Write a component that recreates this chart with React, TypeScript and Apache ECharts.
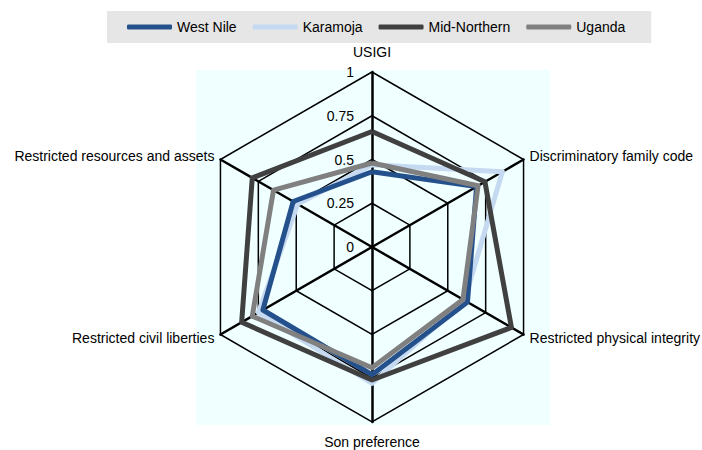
import React, { useEffect, useRef } from "react";
import * as echarts from "echarts";

const indicators = [
  "USIGI",
  "Discriminatory family code",
  "Restricted physical integrity",
  "Son preference",
  "Restricted civil liberties",
  "Restricted resources and assets",
];

const legendOrder = ["West Nile", "Karamoja", "Mid-Northern", "Uganda"];

const westNile = [0.43, 0.69, 0.63, 0.73, 0.72, 0.52];
const karamoja = [0.47, 0.86, 0.61, 0.78, 0.75, 0.49];
const midNorthern = [0.66, 0.745, 0.92, 0.76, 0.86, 0.79];
const uganda = [0.48, 0.7, 0.6, 0.69, 0.79, 0.65];

const colors: Record<string, string> = {
  "West Nile": "#24508C",
  Karamoja: "#C5D9F1",
  "Mid-Northern": "#404040",
  Uganda: "#808080",
};

const FONT = "'Liberation Sans', Arial, sans-serif";

// ECharts radar lays indicators out counter-clockwise; the reference runs clockwise.
const order = [0, 5, 4, 3, 2, 1];

export default function App() {
  const ref = useRef<HTMLDivElement>(null);
  useEffect(() => {
    if (!ref.current) return;
    const chart = echarts.init(ref.current, undefined, { renderer: "svg" });
    const seriesDefs = [
      { name: "Karamoja", values: karamoja },
      { name: "West Nile", values: westNile },
      { name: "Mid-Northern", values: midNorthern },
      { name: "Uganda", values: uganda },
    ];
    chart.setOption({
      animation: false,
      backgroundColor: "#ffffff",
      graphic: [
        {
          type: "rect",
          z: -10,
          silent: true,
          shape: { x: 196, y: 70, width: 354, height: 355 },
          style: { fill: "#F0FFFF" },
        },
      ],
      legend: {
        data: legendOrder,
        left: 107,
        top: 11,
        padding: [9, 26, 9, 20],
        itemGap: 16,
        itemWidth: 45,
        itemHeight: 5,
        icon: "roundRect",
        backgroundColor: "#E6E6E6",
        textStyle: { color: "#000", fontSize: 14, fontFamily: FONT },
      },
      radar: {
        center: [372, 247],
        radius: 175,
        startAngle: 90,
        splitNumber: 4,
        shape: "polygon",
        nameGap: 7,
        indicator: order.map((i) => ({
          name: indicators[i],
          min: 0,
          max: 1,
          axisLabel: { show: i === 0 },
        })),
        axisName: {
          color: "#000",
          fontSize: 14,
          fontFamily: FONT,
          formatter: (name: string) =>
            name === "USIGI" || name === "Son preference" ? `{v|${name}}` : name,
          rich: {
            v: { padding: [6, 0, 6, 0], color: "#000", fontSize: 14, fontFamily: FONT },
          },
        },
        axisLine: { lineStyle: { color: "#000", width: 2.5 } },
        splitLine: { lineStyle: { color: "#000", width: 1.5 } },
        splitArea: { show: false },
        axisTick: { show: false },
        axisLabel: {
          show: false,
          color: "#000",
          fontSize: 14,
          fontFamily: FONT,
          margin: 18,
        },
      },
      series: [
        {
          type: "radar",
          symbol: "none",
          data: seriesDefs.map((s) => ({
            name: s.name,
            value: order.map((i) => s.values[i]),
            lineStyle: { color: colors[s.name], width: 5 },
            itemStyle: { color: colors[s.name] },
          })),
        },
      ],
    });
    return () => chart.dispose();
  }, []);
  return (
    <div
      ref={ref}
      style={{ position: "absolute", left: 0, top: 0, width: 702, height: 450 }}
    />
  );
}
